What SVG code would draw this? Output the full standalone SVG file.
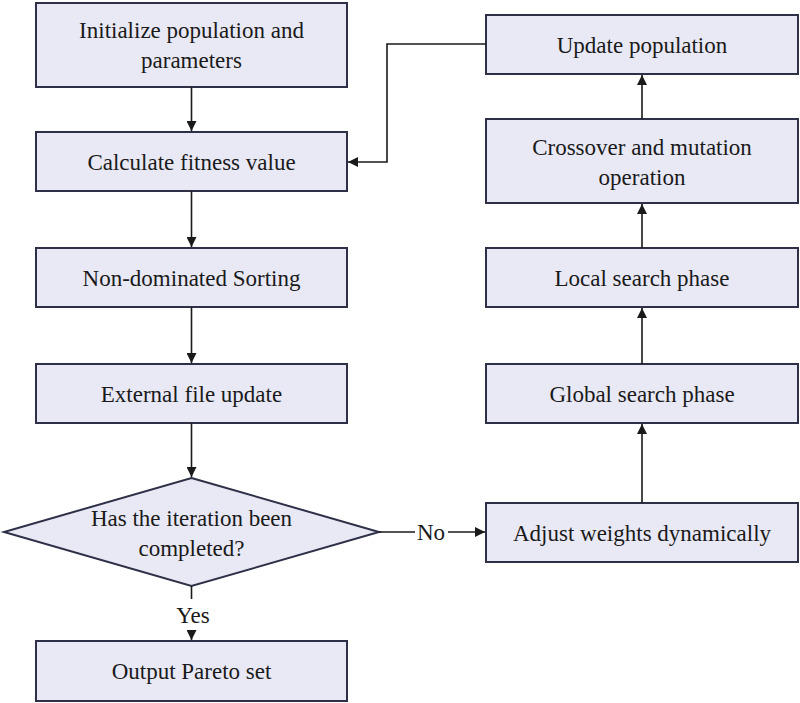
<svg xmlns="http://www.w3.org/2000/svg" width="800" height="703" viewBox="0 0 800 703">
<defs>
<marker id="ah" viewBox="0 0 10 10" refX="10" refY="5" markerWidth="10" markerHeight="10" markerUnits="userSpaceOnUse" orient="auto">
<path d="M0,0 L10,5 L0,10 z" fill="#1a1a1a"/>
</marker>
<style>
.box{fill:#e9e9f5;stroke:#2e3048;stroke-width:2}
.t{font-family:"Liberation Serif","Times New Roman",serif;font-size:23px;fill:#1a1a1a;text-anchor:middle}
.c{fill:none;stroke:#1a1a1a;stroke-width:1.6}
</style>
</defs>
<rect width="800" height="703" fill="#ffffff"/>
<g id="n1"><rect class="box" x="36" y="3" width="311" height="84"/><text class="t" x="191.5" y="38">Initialize population and</text><text class="t" x="191.5" y="68">parameters</text></g>
<g id="n2"><rect class="box" x="36" y="132" width="311" height="59"/><text class="t" x="191.5" y="170">Calculate fitness value</text></g>
<g id="n3"><rect class="box" x="36" y="248" width="311" height="59"/><text class="t" x="191.5" y="286">Non-dominated Sorting</text></g>
<g id="n4"><rect class="box" x="36" y="364" width="311" height="59"/><text class="t" x="191.5" y="402">External file update</text></g>
<g id="n5"><polygon class="box" points="191.5,478 379,532 191.5,586 4,532"/><text class="t" x="191.5" y="526">Has the iteration been</text><text class="t" x="191.5" y="556">completed?</text></g>
<g id="n6"><rect class="box" x="36" y="641" width="311" height="60"/><text class="t" x="191.5" y="679">Output Pareto set</text></g>
<g id="n7"><rect class="box" x="486" y="503" width="312" height="59"/><text class="t" x="642" y="541">Adjust weights dynamically</text></g>
<g id="n8"><rect class="box" x="486" y="364" width="312" height="59"/><text class="t" x="642" y="402">Global search phase</text></g>
<g id="n9"><rect class="box" x="486" y="248" width="312" height="59"/><text class="t" x="642" y="286">Local search phase</text></g>
<g id="n10"><rect class="box" x="486" y="119" width="312" height="84"/><text class="t" x="642" y="155">Crossover and mutation</text><text class="t" x="642" y="185">operation</text></g>
<g id="n11"><rect class="box" x="486" y="15" width="312" height="59"/><text class="t" x="642" y="53">Update population</text></g>
<g id="connectors">
<line class="c" x1="191.5" y1="87" x2="191.5" y2="131" marker-end="url(#ah)"/>
<line class="c" x1="191.5" y1="191" x2="191.5" y2="247" marker-end="url(#ah)"/>
<line class="c" x1="191.5" y1="307" x2="191.5" y2="363" marker-end="url(#ah)"/>
<line class="c" x1="191.5" y1="423" x2="191.5" y2="477" marker-end="url(#ah)"/>
<line class="c" x1="191.5" y1="586" x2="191.5" y2="599"/>
<line class="c" x1="191.5" y1="630" x2="191.5" y2="640" marker-end="url(#ah)"/>
<text class="t" x="193" y="623">Yes</text>
<line class="c" x1="379" y1="532" x2="415" y2="532"/>
<line class="c" x1="448" y1="532" x2="485" y2="532" marker-end="url(#ah)"/>
<text class="t" x="431" y="540">No</text>
<line class="c" x1="642" y1="503" x2="642" y2="424" marker-end="url(#ah)"/>
<line class="c" x1="642" y1="364" x2="642" y2="308" marker-end="url(#ah)"/>
<line class="c" x1="642" y1="248" x2="642" y2="204" marker-end="url(#ah)"/>
<line class="c" x1="642" y1="119" x2="642" y2="75" marker-end="url(#ah)"/>
<polyline class="c" points="486,44 387,44 387,162 348,162" marker-end="url(#ah)"/>
</g>
</svg>
